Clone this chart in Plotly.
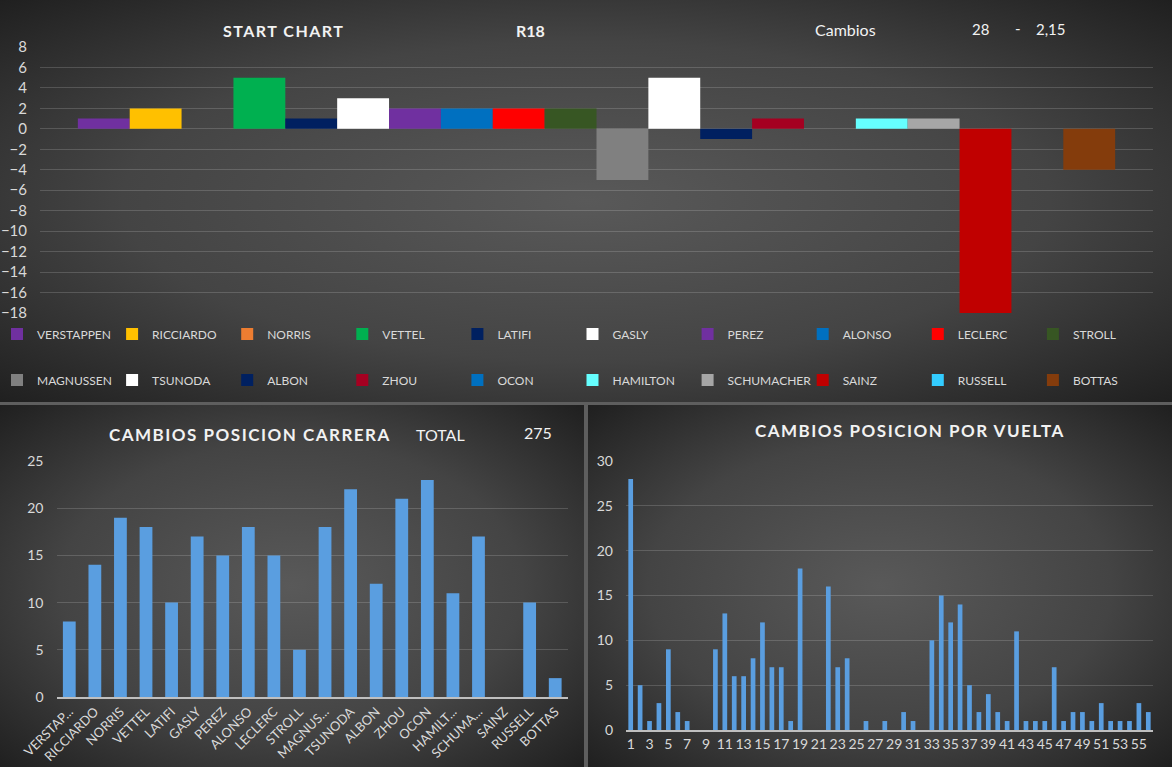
import base64
import plotly.graph_objects as go

W, H = 1172, 767

# ---------------- DATA ----------------
drivers = ["VERSTAPPEN", "RICCIARDO", "NORRIS", "VETTEL", "LATIFI", "GASLY", "PEREZ",
           "ALONSO", "LECLERC", "STROLL", "MAGNUSSEN", "TSUNODA", "ALBON", "ZHOU",
           "OCON", "HAMILTON", "SCHUMACHER", "SAINZ", "RUSSELL", "BOTTAS"]
start_changes = [1, 2, 0, 5, 1, 3, 2, 2, 2, 2, -5, 5, -1, 1, 0, 1, 1, -18, 0, -4]
driver_colors = ["#7030A0", "#FFC000", "#ED7D31", "#00B050", "#002060", "#FFFFFF", "#7030A0",
                 "#0070C0", "#FF0000", "#375623", "#808080", "#FFFFFF", "#002060", "#A50021",
                 "#0070C0", "#66FFFF", "#A6A6A6", "#C00000", "#33CCFF", "#843C0C"]
race_changes = [8, 14, 19, 18, 10, 17, 15, 18, 15, 5, 18, 22, 12, 21, 23, 11, 17, 0, 10, 2]
race_ticklabels = ["VERSTAP...", "RICCIARDO", "NORRIS", "VETTEL", "LATIFI", "GASLY", "PEREZ",
                   "ALONSO", "LECLERC", "STROLL", "MAGNUS...", "TSUNODA", "ALBON", "ZHOU",
                   "OCON", "HAMILT...", "SCHUMA...", "SAINZ", "RUSSELL", "BOTTAS"]
laps = list(range(1, 57))
lap_changes = [28, 5, 1, 3, 9, 2, 1, 0, 0, 9, 13, 6, 6, 8, 12, 7, 7, 1, 18, 0, 0, 16, 7, 8,
               0, 1, 0, 1, 0, 2, 1, 0, 10, 15, 12, 14, 5, 2, 4, 2, 1, 11, 1, 1, 1, 7, 1, 2,
               2, 1, 3, 1, 1, 1, 3, 2]
race_label = "R18"
cambios = "28"
cambios_avg = "2,15"
total = "275"

# ---------------- helpers ----------------
def px(x):
    return x / W

def py(y):
    return 1 - y / H

def grad_svg(w, h):
    svg = (f'<svg xmlns="http://www.w3.org/2000/svg" width="{w}" height="{h}" '
           f'viewBox="0 0 {w} {h}" preserveAspectRatio="none">'
           '<defs><radialGradient id="g" cx="50%" cy="50%" r="72%">'
           '<stop offset="0" stop-color="#595959"/>'
           '<stop offset="0.55" stop-color="#444444"/>'
           '<stop offset="1" stop-color="#1e1e1e"/>'
           '</radialGradient></defs>'
           f'<rect x="0" y="0" width="{w}" height="{h}" fill="url(#g)"/></svg>')
    return "data:image/svg+xml;base64," + base64.b64encode(svg.encode()).decode()

FONT = "Lato"
TICK = "#d9d9d9"
GRID = "rgba(255,255,255,0.16)"
BLUE = "#5a9ee0"

fig = go.Figure()

# ---- top chart: start changes (one legend per driver) ----
legends = {}
for i, (d, v, c) in enumerate(zip(drivers, start_changes, driver_colors)):
    lname = "legend" if i == 0 else f"legend{i + 1}"
    fig.add_trace(go.Bar(
        x=[race_label], y=[v], name=d, marker=dict(color=c, line=dict(width=0)),
        xaxis="x", yaxis="y", legend=lname, showlegend=True))
    col, row = i % 10, i // 10
    text_x = 31 + 115.1 * col
    row_y = 334 if row == 0 else 380
    legends[lname] = dict(x=px(text_x - 34), y=py(row_y), xanchor="left", yanchor="middle",
                          orientation="h", font=dict(family=FONT, size=12, color=TICK),
                          bgcolor="rgba(0,0,0,0)", borderwidth=0,
                          itemclick=False, itemdoubleclick=False)

# ---- bottom left: race changes ----
fig.add_trace(go.Bar(x=drivers, y=race_changes, width=0.5,
                     marker=dict(color=BLUE, line=dict(width=0)),
                     xaxis="x2", yaxis="y2", showlegend=False, name="Carrera"))

# ---- bottom right: per lap ----
fig.add_trace(go.Bar(x=laps, y=lap_changes, width=0.5,
                     marker=dict(color=BLUE, line=dict(width=0)),
                     xaxis="x3", yaxis="y3", showlegend=False, name="Vuelta"))

images = [
    dict(source=grad_svg(1172, 402), xref="paper", yref="paper", x=0, y=1,
         sizex=1, sizey=402 / H, sizing="stretch", xanchor="left", yanchor="top", layer="below"),
    dict(source=grad_svg(584, 362), xref="paper", yref="paper", x=0, y=py(405),
         sizex=px(584), sizey=362 / H, sizing="stretch", xanchor="left", yanchor="top", layer="below"),
    dict(source=grad_svg(584, 362), xref="paper", yref="paper", x=px(588), y=py(405),
         sizex=px(584), sizey=362 / H, sizing="stretch", xanchor="left", yanchor="top", layer="below"),
]

def ann(text, x, y, size, bold=False, spacing=0, color="#f2f2f2"):
    t = text
    if spacing:
        t = f'<span style="letter-spacing:{spacing}px">{t}</span>'
    if bold:
        t = f"<b>{t}</b>"
    return dict(text=t, x=px(x), y=py(y), xref="paper", yref="paper", showarrow=False,
                xanchor="center", yanchor="middle", font=dict(family=FONT, size=size, color=color))

annotations = [
    ann("START CHART", 283, 31, 16, True, 1.5),
    ann(race_label, 530, 31, 16, True),
    ann("Cambios", 845, 29, 16),
    ann(cambios, 980, 29, 15),
    ann("-", 1018, 28, 15),
    ann(cambios_avg, 1051, 29, 15),
    ann("CAMBIOS POSICION CARRERA", 250, 434, 17, True, 1.5),
    ann("TOTAL", 440, 434, 16),
    ann(total, 538, 433, 16),
    ann("CAMBIOS POSICION POR VUELTA", 910, 430, 17, True, 1.5),
]

fig.update_layout(
    width=W, height=H, margin=dict(l=0, r=0, t=0, b=0, pad=0, autoexpand=False),
    paper_bgcolor="#5e5e5e", plot_bgcolor="rgba(0,0,0,0)",
    barmode="group", bargap=0.068, bargroupgap=0,
    font=dict(family=FONT, color=TICK),
    images=images, annotations=annotations,
    xaxis=dict(domain=[px(40), px(1153)], anchor="y", visible=False, fixedrange=True),
    yaxis=dict(domain=[py(313), py(47)], anchor="x", range=[-18, 8], dtick=2, tick0=0,
               showgrid=True, gridcolor=GRID, gridwidth=1, zeroline=False,
               tickfont=dict(family=FONT, size=15, color=TICK), ticklabelstandoff=12,
               fixedrange=True),
    xaxis2=dict(domain=[px(56.5), px(568)], anchor="y2", type="category",
                tickvals=drivers, ticktext=race_ticklabels, tickangle=-45,
                tickfont=dict(family=FONT, size=13, color=TICK),
                showline=True, linecolor="#bfbfbf", linewidth=2, showgrid=False),
    yaxis2=dict(domain=[py(697), py(461)], anchor="x2", range=[0, 25], dtick=5,
                showgrid=True, gridcolor=GRID, zeroline=False,
                tickfont=dict(family=FONT, size=14, color=TICK), ticklabelstandoff=12),
    xaxis3=dict(domain=[px(626), px(1153)], anchor="y3", range=[0.5, 56.5],
                tickmode="linear", tick0=1, dtick=2, tickangle=0,
                tickfont=dict(family=FONT, size=14, color=TICK),
                showline=True, linecolor="#bfbfbf", linewidth=2, showgrid=False, zeroline=False),
    yaxis3=dict(domain=[py(730), py(461)], anchor="x3", range=[0, 30], dtick=5,
                showgrid=True, gridcolor=GRID, zeroline=False,
                tickfont=dict(family=FONT, size=14, color=TICK), ticklabelstandoff=12),
    **legends,
)

fig.write_html("out.html", config={"displayModeBar": False},
               post_script="document.body.style.margin='0';document.body.style.overflow='hidden';")
